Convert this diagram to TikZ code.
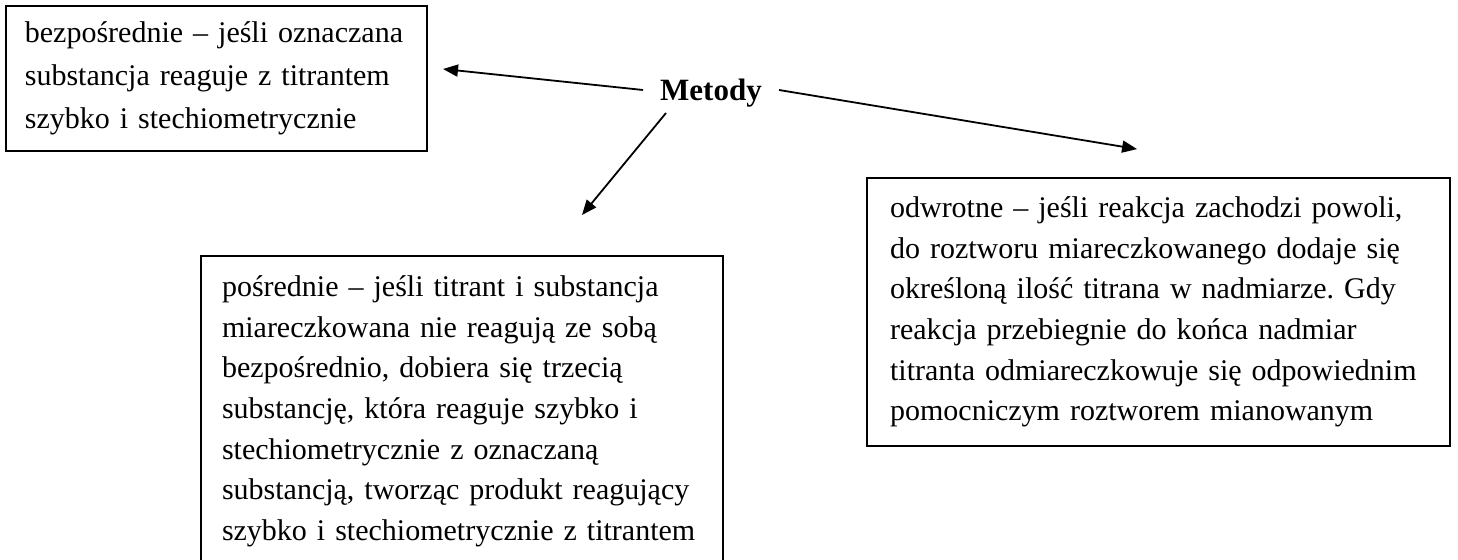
\documentclass[tikz,border=0pt]{standalone}
\usepackage{fontspec}
\setmainfont{Liberation Serif}
\frenchspacing
\usetikzlibrary{shapes,arrows.meta,positioning}
\tikzstyle{Block} = [draw, rectangle, line width=0.9pt, align=left, font=\fontsize{15}{20.3}\selectfont]
\tikzstyle{Text}  = [inner sep=0pt, font=\fontsize{15.5}{18}\selectfont\bfseries]
\tikzstyle{Arrow} = [-{Triangle[length=7.5pt,width=6pt]}, line width=0.9pt]

\begin{document}
\begin{tikzpicture}[x=0.5pt, y=-0.5pt]
    \useasboundingbox (0,0) rectangle (1458,560);
    \node[Text]  (methods) at (711,93) {Metody};
    \node[Block, text width=191.5pt, inner xsep=9.5pt, minimum height=72.5pt,
          font=\fontsize{15}{21.5}\selectfont]
        (direct)   [left=116pt of methods, yshift=7.25pt]
        {bezpośrednie – jeśli oznaczana\\ substancja reaguje z titrantem\\ szybko i stechiometrycznie};
    \node[Block, text width=240pt, inner xsep=10.5pt, minimum height=155pt]
        (indirect) [below=74pt of methods, xshift=-124.5pt]
        {pośrednie – jeśli titrant i substancja\\ miareczkowana nie reagują ze sobą\\ bezpośrednio, dobiera się trzecią\\ substancję, która reaguje szybko i\\ stechiometrycznie z oznaczaną\\ substancją, tworząc produkt reagujący\\ szybko i stechiometrycznie z titrantem};
    \node[Block, text width=268.5pt, inner xsep=11.5pt, minimum height=134pt]
        (back)     [right=52pt of methods, yshift=-109.5pt]
        {odwrotne – jeśli reakcja zachodzi powoli,\\ do roztworu miareczkowanego dodaje się\\ określoną ilość titrana w nadmiarze. Gdy\\ reakcja przebiegnie do końca nadmiar\\ titranta odmiareczkowuje się odpowiednim\\ pomocniczym roztworem mianowanym};
    \draw[Arrow] ([xshift=-8.4pt, yshift=1.5pt]methods.west)
        to ([xshift=7.6pt, yshift=4.75pt]direct.east);
    \draw[Arrow] ([xshift=3.1pt, yshift=-2.75pt]methods.south west)
        to ([xshift=60pt, yshift=20.25pt]indirect.north);
    \draw[Arrow] ([xshift=8.4pt, yshift=1.5pt]methods.east)
        to ([xshift=-10.75pt, yshift=14pt]back.north);
  \end{tikzpicture}
\end{document}
